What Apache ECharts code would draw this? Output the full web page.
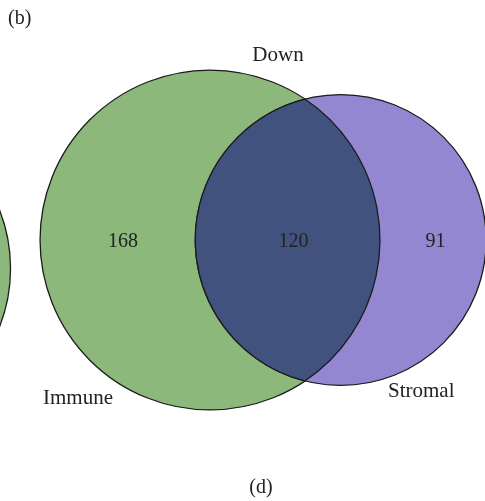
<!DOCTYPE html>
<html>
<head>
<meta charset="utf-8">
<script src="https://cdn.jsdelivr.net/npm/echarts@6/dist/echarts.min.js"></script>
<style>
  html, body { margin: 0; padding: 0; background: #ffffff; }
  #chart { width: 485px; height: 501px; }
</style>
</head>
<body>
<div id="chart"></div>
<script>
// ---- data ----
const setNames = ['Immune', 'Stromal'];
const onlyCounts = [168, 91];          // elements unique to each set
const sharedCount = 120;               // elements in both sets
const diagramTitle = 'Down';
const panelLabels = ['(b)', '(d)'];
const neighbourSetSize = 258;          // circle of the adjacent panel, cropped at the left edge

// ---- geometry: area-proportional two-set Venn ----
const totals = [onlyCounts[0] + sharedCount, onlyCounts[1] + sharedCount];
const radius = n => Math.sqrt(n / Math.PI);
const rA = radius(totals[0]);
const rB = radius(totals[1]);

function lensArea(d, r1, r2) {
  if (d >= r1 + r2) return 0;
  if (d <= Math.abs(r1 - r2)) return Math.PI * Math.min(r1, r2) ** 2;
  const a1 = Math.acos((d * d + r1 * r1 - r2 * r2) / (2 * d * r1));
  const a2 = Math.acos((d * d + r2 * r2 - r1 * r1) / (2 * d * r2));
  const k = Math.sqrt((-d + r1 + r2) * (d + r1 - r2) * (d - r1 + r2) * (d + r1 + r2));
  return r1 * r1 * a1 + r2 * r2 * a2 - 0.5 * k;
}
// bisection for the centre distance that gives the shared area
let lo = Math.abs(rA - rB), hi = rA + rB;
for (let i = 0; i < 80; i++) {
  const mid = (lo + hi) / 2;
  if (lensArea(mid, rA, rB) > sharedCount) lo = mid; else hi = mid;
}
const dist = (lo + hi) / 2;

const circleA = [0, 0, rA];
const circleB = [dist, 0, rB];
const circleN = [-20.3, -1.6, radius(neighbourSetSize)];

// ---- view: equal scale on both axes ----
const W = 485, H = 501;
const PX_PER_UNIT = 17.75;
const ORIGIN_PX = [210, 240];
const xMin = -ORIGIN_PX[0] / PX_PER_UNIT, xMax = (W - ORIGIN_PX[0]) / PX_PER_UNIT;
const yMax = ORIGIN_PX[1] / PX_PER_UNIT, yMin = -(H - ORIGIN_PX[1]) / PX_PER_UNIT;

// label anchors for the three regions (data units)
const regionLabelX = [-4.9, 4.7, 12.7];
const regionLabelY = -0.1;
const regionValues = [onlyCounts[0], sharedCount, onlyCounts[1]];

const COLORS = { A: '#8DB87B', B: '#9487D1', AB: '#42527F', edge: '#1b1b1b', text: '#222222' };
const FONT = '20px "Liberation Serif", "Times New Roman", serif';
const NAME_FONT = '21px "Liberation Serif", "Times New Roman", serif';

const chart = echarts.init(document.getElementById('chart'), null, { renderer: 'canvas' });

function circleFill(fillMap) {
  return function (params, api) {
    const c = api.coord([api.value(0), api.value(1)]);
    const r = api.size([api.value(2), 0])[0];
    return {
      type: 'circle',
      shape: { cx: c[0], cy: c[1], r: r },
      style: { fill: fillMap[params.dataIndex], stroke: COLORS.edge, lineWidth: 1.3 }
    };
  };
}

chart.setOption({
  animation: false,
  grid: { left: 0, right: 0, top: 0, bottom: 0 },
  xAxis: { type: 'value', min: xMin, max: xMax, show: false },
  yAxis: { type: 'value', min: yMin, max: yMax, show: false },
  series: [
    {
      // set circles
      type: 'custom',
      coordinateSystem: 'cartesian2d',
      data: [circleN, circleA, circleB],
      renderItem: circleFill([COLORS.A, COLORS.A, COLORS.B]),
      z: 1
    },
    {
      // intersection lens
      type: 'custom',
      coordinateSystem: 'cartesian2d',
      data: [[circleA[0], circleA[1], circleA[2], circleB[0], circleB[1], circleB[2]]],
      renderItem: function (params, api) {
        const pA = api.coord([api.value(0), api.value(1)]);
        const pB = api.coord([api.value(3), api.value(4)]);
        const R1 = api.size([api.value(2), 0])[0];
        const R2 = api.size([api.value(5), 0])[0];
        const dx = pB[0] - pA[0], dy = pB[1] - pA[1];
        const D = Math.hypot(dx, dy);
        const ux = dx / D, uy = dy / D;
        const a = (D * D + R1 * R1 - R2 * R2) / (2 * D);
        const h = Math.sqrt(Math.max(R1 * R1 - a * a, 0));
        const bx = pA[0] + a * ux, by = pA[1] + a * uy;
        const px = -uy, py = ux;
        const top = [bx - h * px, by - h * py];
        const bot = [bx + h * px, by + h * py];
        const largeA = a < 0 ? 1 : 0;
        const largeB = a > D ? 1 : 0;
        const d = 'M' + top[0] + ' ' + top[1] +
          ' A' + R1 + ' ' + R1 + ' 0 ' + largeA + ' 1 ' + bot[0] + ' ' + bot[1] +
          ' A' + R2 + ' ' + R2 + ' 0 ' + largeB + ' 1 ' + top[0] + ' ' + top[1] + ' Z';
        return {
          type: 'path',
          shape: { pathData: d },
          style: { fill: COLORS.AB, stroke: COLORS.edge, lineWidth: 1.3 }
        };
      },
      z: 2
    },
    {
      // region counts
      type: 'custom',
      coordinateSystem: 'cartesian2d',
      data: regionValues.map((v, i) => [regionLabelX[i], regionLabelY, v]),
      renderItem: function (params, api) {
        const c = api.coord([api.value(0), api.value(1)]);
        return {
          type: 'text',
          style: {
            text: String(api.value(2)),
            x: c[0], y: c[1],
            align: 'center', verticalAlign: 'middle',
            font: FONT, fill: COLORS.text
          }
        };
      },
      z: 3
    }
  ],
  graphic: [
    { type: 'text', x: 8, y: 19, style: { text: panelLabels[0], font: FONT, fill: COLORS.text, align: 'left', verticalAlign: 'middle' } },
    { type: 'text', x: 278, y: 55, style: { text: diagramTitle, font: NAME_FONT, fill: COLORS.text, align: 'center', verticalAlign: 'middle' } },
    { type: 'text', x: 43, y: 398, style: { text: setNames[0], font: NAME_FONT, fill: COLORS.text, align: 'left', verticalAlign: 'middle' } },
    { type: 'text', x: 388, y: 391, style: { text: setNames[1], font: NAME_FONT, fill: COLORS.text, align: 'left', verticalAlign: 'middle' } },
    { type: 'text', x: 261, y: 488, style: { text: panelLabels[1], font: FONT, fill: COLORS.text, align: 'center', verticalAlign: 'middle' } }
  ]
});
</script>
</body>
</html>
